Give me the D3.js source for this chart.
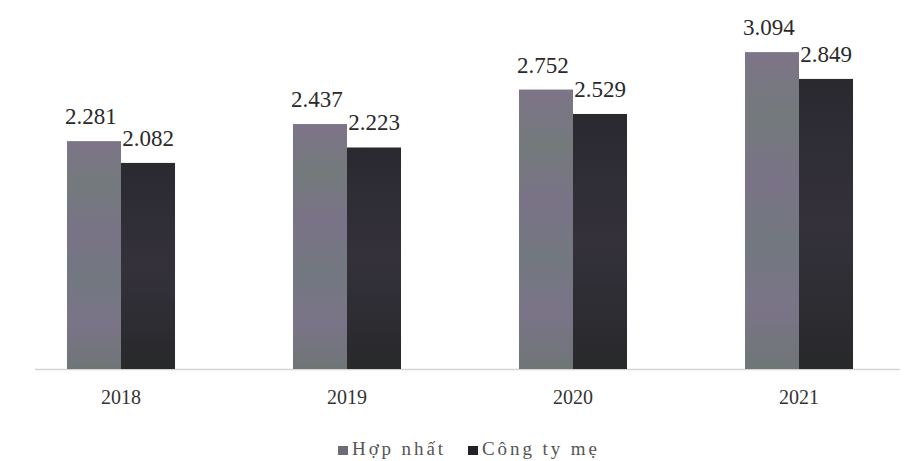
<!DOCTYPE html>
<html><head><meta charset="utf-8">
<script src="https://cdn.jsdelivr.net/npm/d3@7"></script>
<style>body{margin:0;background:#fff}</style>
</head><body>
<script>
const years = ["2018","2019","2020","2021"];
const seriesNames = ["Hợp nhất","Công ty mẹ"];
const hopNhat = [2.281, 2.437, 2.752, 3.094];
const congTyMe = [2.082, 2.223, 2.529, 2.849];
const labels = [["2.281","2.437","2.752","3.094"],["2.082","2.223","2.529","2.849"]];
const colors = ["#6f6b76","#222126"];

const W = 904, H = 461;
const svg = d3.select("body").append("svg").attr("width", W).attr("height", H);
const defs = svg.append("defs");
const g0 = defs.append("linearGradient").attr("id","g0").attr("x1",0).attr("x2",0).attr("y1",0).attr("y2",1);
[["0%","#7d7488"],["20%","#747a7c"],["40%","#7a7387"],["60%","#727880"],["80%","#7b7488"],["100%","#6e7676"]].forEach(s=>g0.append("stop").attr("offset",s[0]).attr("stop-color",s[1]));
const g1 = defs.append("linearGradient").attr("id","g1").attr("x1",0).attr("x2",0).attr("y1",0).attr("y2",1);
[["0%","#2a2930"],["50%","#34313b"],["100%","#28292b"]].forEach(s=>g1.append("stop").attr("offset",s[0]).attr("stop-color",s[1]));
const fills = ["url(#g0)","url(#g1)"];

const x = d3.scaleBand().domain(years).range([8, 912]).paddingInner(0.522).paddingOuter(0.261);
const xs = d3.scaleBand().domain([0,1]).range([0, x.bandwidth()]);
const y = d3.scaleLinear().domain([0.2, 3.3]).range([369, 369 - 3.1*109.5]);

const data = [hopNhat, congTyMe];

// axis line
svg.append("line").attr("x1", 35).attr("x2", 900).attr("y1", 369.5).attr("y2", 369.5)
  .attr("stroke", "#d4d4d4").attr("stroke-width", 1.5);

data.forEach((vals, si) => {
  svg.selectAll(null).data(vals).enter().append("rect")
    .attr("x", (d,i) => x(years[i]) + xs(si))
    .attr("width", xs.bandwidth())
    .attr("y", d => y(d))
    .attr("height", d => y(0.2) - y(d))
    .attr("fill", fills[si]);
  svg.selectAll(null).data(vals).enter().append("text")
    .attr("x", (d,i) => x(years[i]) + xs(si) + xs.bandwidth()/2 - (si === 0 ? 3 : 0))
    .attr("y", d => y(d) - 17)
    .attr("text-anchor", "middle")
    .attr("font-family", "Liberation Serif, serif")
    .attr("font-size", 23)
    .attr("fill", "#2a2a2a")
    .text((d,i) => labels[si][i]);
});

// x axis labels
const xa = svg.append("g").attr("transform", "translate(0,369)")
  .call(d3.axisBottom(x).tickSize(0).tickPadding(21));
xa.select(".domain").remove();
xa.selectAll("text").attr("font-family", "Liberation Serif, serif").attr("font-size", 20).attr("fill", "#333");

// legend
const leg = svg.append("g").attr("transform", "translate(338,455)");
const legItems = [{n: seriesNames[0], x: 0, w: 91}, {n: seriesNames[1], x: 130, w: 115}];
legItems.forEach((it, i) => {
  leg.append("rect").attr("x", it.x).attr("y", -9).attr("width", 10).attr("height", 9).attr("fill", colors[i]);
  leg.append("text").attr("x", it.x + 14).attr("y", 0)
    .attr("font-family", "Liberation Serif, serif").attr("font-size", 19).attr("fill", "#555")
    .attr("textLength", it.w).attr("lengthAdjust", "spacing")
    .text(it.n);
});
</script>
</body></html>
